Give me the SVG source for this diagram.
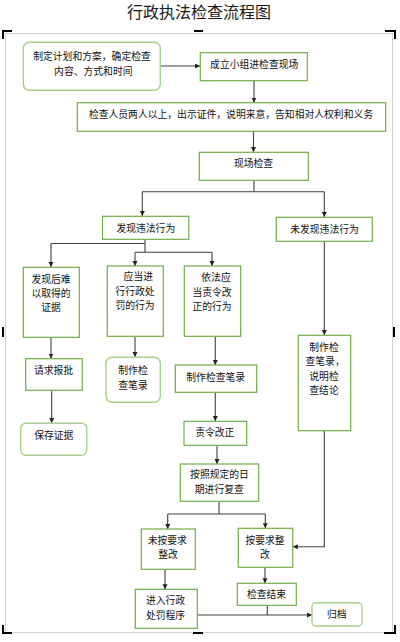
<svg xmlns="http://www.w3.org/2000/svg" width="400" height="642" viewBox="0 0 400 642">
<defs>
<style>
.bx{fill:#fff;stroke:#70AD47;stroke-width:1.2}
.rb{fill:#fff;stroke:#A9D18E;stroke-width:1.4}
.t{font-family:"Liberation Sans","Noto Sans CJK SC",sans-serif;font-size:9.8px;fill:#111;text-anchor:middle}
.ts{font-family:"Liberation Sans","Noto Sans CJK SC",sans-serif;font-size:9.8px;fill:#111}
.c{fill:none;stroke:#404040;stroke-width:1.1}
.a{fill:none;stroke:#404040;stroke-width:1.1;marker-end:url(#ah)}
.mk{fill:#000}
</style>
<marker id="ah" markerUnits="userSpaceOnUse" markerWidth="6" markerHeight="6" refX="5" refY="2.5" orient="auto">
<path d="M0,0 L5,2.5 L0,5 z" fill="#222"/>
</marker>
</defs>
<rect width="400" height="642" fill="#fff"/>
<text x="199" y="17.5" font-family="Noto Sans CJK SC,sans-serif" font-size="16" font-weight="400" fill="#1a1a1a" text-anchor="middle">行政执法检查流程图</text>
<g id="frame">
<rect x="5.5" y="33.5" width="387" height="599" fill="none" stroke="#d0d0d0" stroke-width="1"/>
<path class="mk" d="M2,30 H12 V32 H4 V39 H2 Z"/>
<path class="mk" d="M385,30 H396 V39 H394 V32 H385 Z"/>
<path class="mk" d="M2,625 H4 V632 H12 V634 H2 Z"/>
<path class="mk" d="M394,625 H396 V634 H384 V632 H394 Z"/>
<rect class="mk" x="194" y="30" width="9" height="2"/>
<rect class="mk" x="193" y="632" width="10" height="2"/>
<rect class="mk" x="2" y="327" width="2" height="10"/>
<rect class="mk" x="393" y="327" width="2" height="10"/>
</g>
<g id="connectors">
<line class="a" x1="160.5" y1="66" x2="200" y2="66"/>
<line class="a" x1="254" y1="81" x2="254" y2="102.5"/>
<line class="a" x1="253.5" y1="131.5" x2="253.5" y2="152"/>
<path class="c" d="M254,180.5 V191.7 M142.3,191.7 H324.3"/>
<line class="a" x1="142.3" y1="191.7" x2="142.3" y2="216"/>
<line class="a" x1="324.3" y1="191.7" x2="324.3" y2="217"/>
<line class="a" x1="324.3" y1="241.5" x2="324.3" y2="335"/>
<path class="c" d="M145,239.5 V252.3 M145,243.5 H51 M135,252.3 H212"/>
<line class="a" x1="51" y1="243.5" x2="51" y2="267"/>
<line class="a" x1="135" y1="252.3" x2="135" y2="266"/>
<line class="a" x1="212" y1="252.3" x2="212" y2="266"/>
<line class="a" x1="51" y1="337.5" x2="51" y2="358.5"/>
<line class="a" x1="51.7" y1="390.5" x2="51.7" y2="423"/>
<line class="a" x1="135" y1="336.5" x2="135" y2="357"/>
<line class="a" x1="215.3" y1="336.5" x2="215.3" y2="365"/>
<line class="a" x1="215.3" y1="392.5" x2="215.3" y2="421"/>
<line class="a" x1="217" y1="445.5" x2="217" y2="464"/>
<path class="c" d="M219,501.5 V514 M167.7,514 H265.3"/>
<line class="a" x1="167.7" y1="514" x2="167.7" y2="529"/>
<line class="a" x1="265.3" y1="514" x2="265.3" y2="528.3"/>
<path class="a" d="M324.3,431 V546.7 H292.8"/>
<line class="a" x1="165" y1="569.5" x2="165" y2="589.3"/>
<line class="a" x1="265" y1="567.5" x2="265" y2="583.3"/>
<path class="c" d="M267.3,605.5 V615"/>
<line class="a" x1="197.5" y1="615" x2="312" y2="615"/>
</g>
<g id="n1"><rect class="rb" x="23.3" y="42.3" width="137" height="48" rx="6"/>
<text class="t" x="92" y="60.2">制定计划和方案，确定检查</text><text class="t" x="93.3" y="74.5">内容、方式和时间</text></g>
<g id="n2"><rect class="bx" x="200.3" y="52.7" width="107" height="28"/>
<text class="t" x="254.2" y="68.2">成立小组进检查现场</text></g>
<g id="n3"><rect class="bx" x="77.3" y="102.7" width="308.4" height="28.6"/>
<text class="t" x="231" y="117.5">检查人员两人以上，出示证件，说明来意，告知相对人权利和义务</text></g>
<g id="n4"><rect class="bx" x="199.3" y="152.3" width="109" height="28"/>
<text class="t" x="253.5" y="166.8">现场检查</text></g>
<g id="n5"><rect class="bx" x="102.5" y="216.3" width="86.3" height="23"/>
<text class="t" x="145.8" y="231.5">发现违法行为</text></g>
<g id="n6"><rect class="bx" x="276.3" y="217.3" width="96" height="24"/>
<text class="t" x="324.5" y="232.8">未发现违法行为</text></g>
<g id="n7"><rect class="bx" x="23.3" y="267.3" width="56" height="70"/>
<text class="t" x="51" y="282.8">发现后难</text><text class="t" x="51" y="296.8">以取得的</text><text class="t" x="51" y="311.2">证据</text></g>
<g id="n8"><rect class="bx" x="107.3" y="266" width="56" height="70.3"/>
<text class="t" x="138.3" y="280.2">应当进</text><text class="t" x="135" y="295.2">行行政处</text><text class="t" x="135" y="309.2">罚的行为</text></g>
<g id="n12"><rect class="bx" x="184.3" y="266" width="56.4" height="70.3"/>
<text class="t" x="216" y="280.8">依法应</text><text class="t" x="212" y="295.8">当责令改</text><text class="t" x="212" y="310.2">正的行为</text></g>
<g id="n9"><rect class="bx" x="25.7" y="358.7" width="56.6" height="31.6"/>
<text class="t" x="53.5" y="373.8">请求报批</text></g>
<g id="n10"><rect class="rb" x="20.7" y="423.3" width="66" height="32" rx="5"/>
<text class="t" x="53.8" y="438.8">保存证据</text></g>
<g id="n11"><rect class="rb" x="106" y="357.3" width="54.3" height="45" rx="6"/>
<text class="t" x="133" y="374.2">制作检</text><text class="t" x="133" y="389.2">查笔录</text></g>
<g id="n13"><rect class="bx" x="175.3" y="365" width="81.4" height="27.3"/>
<text class="t" x="215.7" y="380.5">制作检查笔录</text></g>
<g id="n14"><rect class="bx" x="184" y="421.3" width="62.7" height="24"/>
<text class="t" x="214.8" y="435.5">责令改正</text></g>
<g id="n15"><rect class="bx" x="298.3" y="335.3" width="52.4" height="95.4"/>
<text class="t" x="324" y="350.8">制作检</text><text class="ts" x="305.5" y="365.2">查笔录，</text><text class="t" x="324" y="380.2">说明检</text><text class="t" x="324" y="394.2">查结论</text></g>
<g id="n16"><rect class="bx" x="180.3" y="464" width="78.4" height="37.3"/>
<text class="t" x="219.5" y="478.2">按照规定的日</text><text class="t" x="219.3" y="492.8">期进行复查</text></g>
<g id="n17"><rect class="bx" x="141.3" y="529" width="54" height="40.3"/>
<text class="t" x="167.3" y="543.5">未按要求</text><text class="t" x="168" y="557.8">整改</text></g>
<g id="n18"><rect class="bx" x="238.3" y="528.3" width="54.4" height="39"/>
<text class="t" x="265" y="543.5">按要求整</text><text class="t" x="265" y="557.5">改</text></g>
<g id="n19"><rect class="bx" x="135.3" y="589.3" width="62" height="39"/>
<text class="t" x="165.5" y="604.2">进入行政</text><text class="t" x="165.5" y="618.8">处罚程序</text></g>
<g id="n20"><rect class="bx" x="237.3" y="583.3" width="59" height="22"/>
<text class="t" x="266.5" y="598.2">检查结束</text></g>
<g id="n21"><rect class="rb" x="312" y="602.7" width="50" height="23.3" rx="4"/>
<text class="t" x="336.8" y="617.8">归档</text></g>
</svg>
